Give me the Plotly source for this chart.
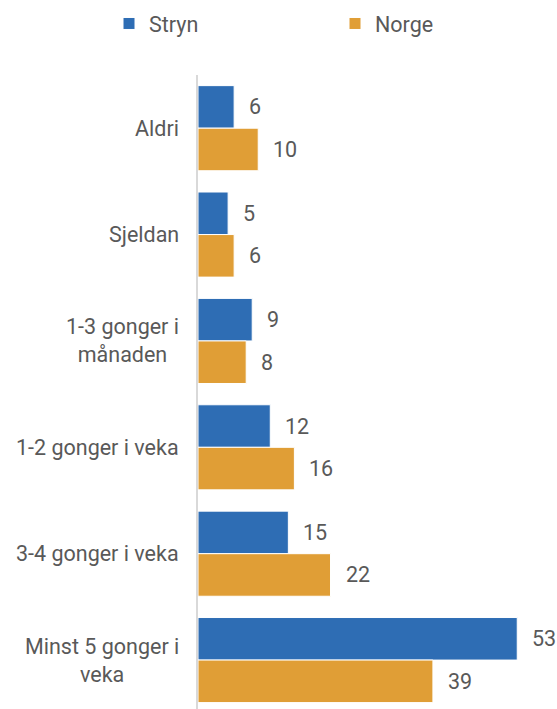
import plotly.graph_objects as go

categories = ["Aldri", "Sjeldan", "1-3 gonger i<br>månaden", "1-2 gonger i veka",
              "3-4 gonger i veka", "Minst 5 gonger i<br>veka"]
stryn = [6, 5, 9, 12, 15, 53]
norge = [10, 6, 8, 16, 22, 39]
series_names = ["Stryn", "Norge"]
colors = ["#2E6DB4", "#E09E36"]

FONT = "Roboto"
TXT = "#595959"
FS = 21.5

fig = go.Figure()
for name, vals, col, lg in zip(series_names, [stryn, norge], colors, ["legend", "legend2"]):
    fig.add_trace(go.Bar(
        y=categories, x=vals, orientation="h", name=name, legend=lg,
        marker=dict(color=col, line=dict(color="white", width=1)),
        hoverinfo="x+name",
    ))

ann = []
for vals, shift in [(stryn, 21.3), (norge, -21.3)]:
    for c, v in zip(categories, vals):
        ann.append(dict(x=v, y=c, xref="x", yref="y", text=str(v), showarrow=False,
                        xanchor="left", yanchor="middle", xshift=13, yshift=shift,
                        font=dict(family=FONT, size=FS, color=TXT)))
for c in categories:
    ann.append(dict(x=0, y=c, xref="paper", yref="y", text=c, showarrow=False,
                    xanchor="right", yanchor="middle", xshift=-17, align="center",
                    font=dict(family=FONT, size=FS, color=TXT)))

leg = dict(orientation="h", xref="container", yref="container",
           y=1.0 - 3 / 709, xanchor="left", yanchor="top",
           font=dict(family=FONT, size=FS, color=TXT))

fig.update_layout(
    width=557, height=709,
    margin=dict(l=198, r=0, t=75, b=0),
    paper_bgcolor="white", plot_bgcolor="white",
    barmode="group", bargap=0.2, bargroupgap=0,
    font=dict(family=FONT, size=FS, color=TXT),
    showlegend=True,
    legend=dict(leg, x=109 / 557),
    legend2=dict(leg, x=335 / 557),
    xaxis=dict(range=[0, 59.6], showgrid=False, zeroline=False, showticklabels=False,
               showline=False, fixedrange=True),
    yaxis=dict(type="category", categoryorder="array", categoryarray=categories,
               range=[5.46, -0.5], showgrid=False, zeroline=False, showticklabels=False,
               showline=True, linecolor="#D9D9D9", linewidth=2, ticks=""),
    annotations=ann,
)

fig.write_html("out.html", config={"displayModeBar": False},
               post_script="document.body.style.margin='0';")
